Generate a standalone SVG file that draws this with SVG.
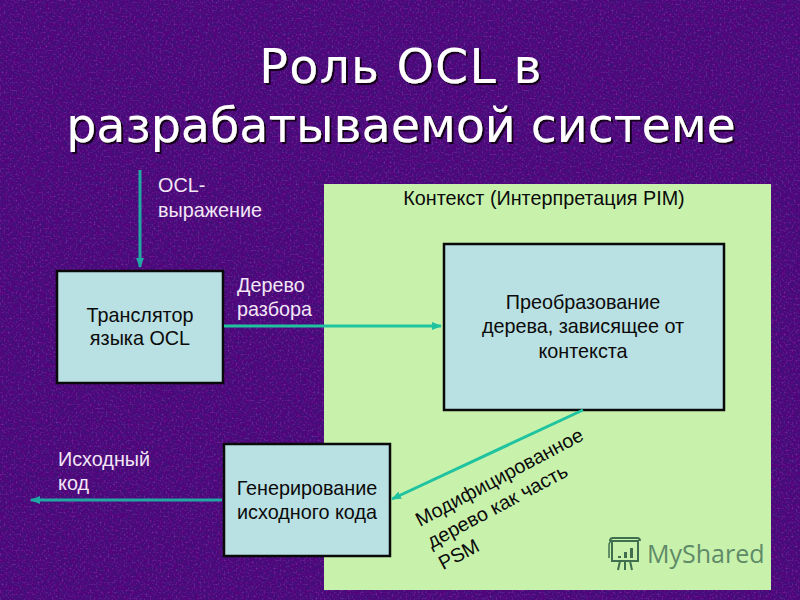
<svg xmlns="http://www.w3.org/2000/svg" width="800" height="600" viewBox="0 0 800 600">
<style>
.t{font-family:"Liberation Sans",Arial,sans-serif;font-size:19.8px}
.d{fill:#0b0b0b}
.l{fill:#f3e6f7}
.title{font-family:"DejaVu Sans",Verdana,sans-serif;font-size:47.5px;fill:#fff;text-anchor:middle;filter:url(#ts)}
.box{fill:#b9e0e2;stroke:#0a0a0a;stroke-width:2.5}
.c{fill:none;stroke-width:3}
.m{text-anchor:middle}
</style>
<defs>
<filter id="ts" x="-5%" y="-10%" width="110%" height="125%">
<feDropShadow dx="2" dy="2" stdDeviation="0.6" flood-color="#12061c"/>
</filter>
<filter id="noise" x="0" y="0" width="100%" height="100%">
<feTurbulence type="fractalNoise" baseFrequency="0.22" numOctaves="4" seed="7"/>
<feColorMatrix type="matrix" values="0 0 0 0 0.1  0 0 0 0 0  0 0 0 0 0.2  1.7 0 0 0 -0.5"/>
</filter>
<filter id="noise2" x="0" y="0" width="100%" height="100%">
<feTurbulence type="fractalNoise" baseFrequency="0.5" numOctaves="2" seed="21"/>
<feColorMatrix type="matrix" values="0 0 0 0 0.42  0 0 0 0 0.08  0 0 0 0 0.6  1.2 0 0 0 -0.6"/>
</filter>
<marker id="aT" markerWidth="10" markerHeight="8" refX="9" refY="4" orient="auto" markerUnits="userSpaceOnUse"><path d="M0 0L10 4L0 8z" fill="#1fa8a4"/></marker>
<marker id="aG" markerWidth="10" markerHeight="8" refX="9" refY="4" orient="auto" markerUnits="userSpaceOnUse"><path d="M0 0L10 4L0 8z" fill="#1fc3a0"/></marker>
</defs>
<rect width="800" height="600" fill="#420f78"/>
<rect width="800" height="600" filter="url(#noise)"/>
<rect width="800" height="600" filter="url(#noise2)"/>
<g id="title">
<text class="title" x="401" y="83" letter-spacing="1.2">Роль OCL в</text>
<text class="title" x="401" y="142">разрабатываемой системе</text>
</g>
<g id="context">
<rect x="324" y="184" width="447" height="406" fill="#c8f2ac"/>
<text class="t d m" x="544" y="205">Контекст (Интерпретация PIM)</text>
</g>
<g id="translator">
<rect class="box" x="57" y="271" width="166" height="112"/>
<text class="t d m" x="140" y="322">Транслятор</text>
<text class="t d m" x="140" y="345">языка OCL</text>
</g>
<g id="transform">
<rect class="box" x="444" y="244" width="280" height="166"/>
<text class="t d m" x="583" y="309">Преобразование</text>
<text class="t d m" x="583" y="333">дерева, зависящее от</text>
<text class="t d m" x="583" y="358">контекста</text>
</g>
<g id="generator">
<rect class="box" x="224" y="444" width="166" height="112"/>
<text class="t d m" x="307" y="495">Генерирование</text>
<text class="t d m" x="307" y="519">исходного кода</text>
</g>
<g id="connectors">
<path class="c" d="M140 170V267" stroke="#1fa8a4" marker-end="url(#aT)"/>
<path class="c" d="M224 326H441" stroke="#1fc3a0" marker-end="url(#aG)"/>
<path class="c" d="M583 410L392 499" stroke="#1fc3a0" marker-end="url(#aG)"/>
<path class="c" d="M222 500H31" stroke="#1fa8a4" marker-end="url(#aT)"/>
</g>
<g id="labels">
<text class="t l" x="158" y="192">OCL-</text>
<text class="t l" x="158" y="217">выражение</text>
<text class="t l" x="237" y="292">Дерево</text>
<text class="t l" x="237" y="316">разбора</text>
<text class="t l" x="58" y="466">Исходный</text>
<text class="t l" x="58" y="490">код</text>
<g transform="translate(420 527) rotate(-28)">
<text class="t d" x="0" y="0">Модифицированное</text>
<text class="t d" x="0" y="24.5">дерево как часть</text>
<text class="t d" x="0" y="49">PSM</text>
</g>
</g>
<g id="watermark">
<g fill="none" stroke="#3f6f4f" stroke-width="2">
<path d="M612 541h26v20h-26zM610 541q0-3 3-3h24q3 0 3 3"/>
<path d="M620 561l-2 9M625 561v9M630 561l2 9"/>
<path d="M612 541q-3 0-3 5v12" stroke-width="1.5"/>
</g>
<path d="M618 556h3v2h-3zM624 552h3v6h-3zM630 548h3v10h-3z" fill="#3f6f4f"/>
<text x="647" y="563" font-family="'Open Sans','Liberation Sans',sans-serif" font-size="25" fill="#5f8a68">MyShared</text>
</g>
</svg>
